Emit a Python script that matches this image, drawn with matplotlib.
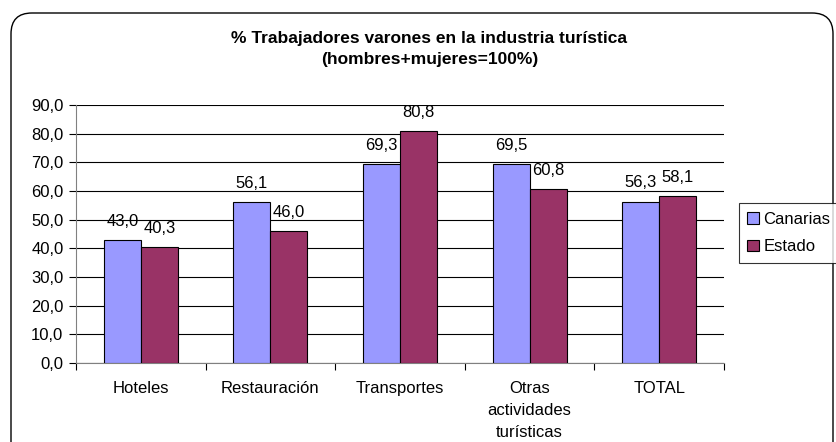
import numpy as np
import matplotlib.pyplot as plt
from matplotlib.patches import FancyBboxPatch, Patch
from matplotlib.ticker import FixedLocator

plt.rcParams['font.family'] = ['Liberation Sans', 'DejaVu Sans']

categorias = ['Hoteles', 'Restauración', 'Transportes', 'Otras\nactividades\nturísticas', 'TOTAL']
canarias = [43.0, 56.1, 69.3, 69.5, 56.3]
estado = [40.3, 46.0, 80.8, 60.8, 58.1]

fs = 12

fig = plt.figure(figsize=(8.36, 4.42), dpi=100)

# marco redondeado estilo Excel
frame = FancyBboxPatch((11 / 836, -0.1), (822 / 836), 1.1 - 13 / 442,
                       boxstyle='round,pad=0,rounding_size=0.025',
                       transform=fig.transFigure, fill=False,
                       edgecolor='black', linewidth=1.0, mutation_aspect=836 / 442)
fig.patches.append(frame)

ax = fig.add_axes([76 / 836, 1 - 363 / 442, 648 / 836, 258 / 442])

x = np.arange(len(categorias))
w = 0.285
b1 = ax.bar(x - w / 2, canarias, w, color='#9999FF', edgecolor='black', linewidth=0.8, zorder=3)
b2 = ax.bar(x + w / 2, estado, w, color='#993366', edgecolor='black', linewidth=0.8, zorder=3)

for bars, vals in ((b1, canarias), (b2, estado)):
    for r, v in zip(bars, vals):
        ax.annotate(f'{v:.1f}'.replace('.', ','),
                    (r.get_x() + r.get_width() / 2, r.get_height()),
                    xytext=(0, 8), textcoords='offset points',
                    ha='center', va='bottom', fontsize=fs)

ax.set_xlim(-0.5, len(categorias) - 0.5)
ax.set_ylim(0, 90)
ax.set_yticks(np.arange(0, 91, 10))
ax.set_yticklabels([f'{t:.1f}'.replace('.', ',') for t in np.arange(0, 91, 10)], fontsize=fs)
ax.yaxis.grid(True, color='black', linewidth=0.8, zorder=0)

ax.set_xticks(x)
ax.set_xticklabels(categorias, fontsize=fs, linespacing=1.6, va='top')
ax.tick_params(axis='x', length=0, pad=13)
ax.xaxis.set_minor_locator(FixedLocator(np.arange(-0.5, len(categorias), 1)))
ax.tick_params(axis='x', which='minor', length=5, direction='out', width=0.8)
ax.tick_params(axis='y', length=5, direction='out', width=0.8, pad=4)

for s in ['top', 'right']:
    ax.spines[s].set_visible(False)
ax.spines['left'].set_color('#808080')
ax.spines['bottom'].set_color('#808080')

fig.text(0.5 * (222 + 637) / 836, 1 - 49 / 442,
         '% Trabajadores varones en la industria turística\n(hombres+mujeres=100%)',
         ha='center', va='center', fontsize=12.5, fontweight='bold', linespacing=1.55)

handles = [Patch(facecolor='#9999FF', edgecolor='black', linewidth=0.8),
           Patch(facecolor='#993366', edgecolor='black', linewidth=0.8)]
leg = fig.legend(handles, ['Canarias', 'Estado'], loc='center left',
                 bbox_to_anchor=(739 / 836, 1 - 233 / 442), fontsize=fs,
                 frameon=True, fancybox=False, handlelength=0.7, handleheight=0.7,
                 handletextpad=0.25, borderpad=0.5, labelspacing=0.75, borderaxespad=0)
leg.get_frame().set_edgecolor('black')
leg.get_frame().set_linewidth(0.8)

fig.savefig('out.png', dpi=100)
